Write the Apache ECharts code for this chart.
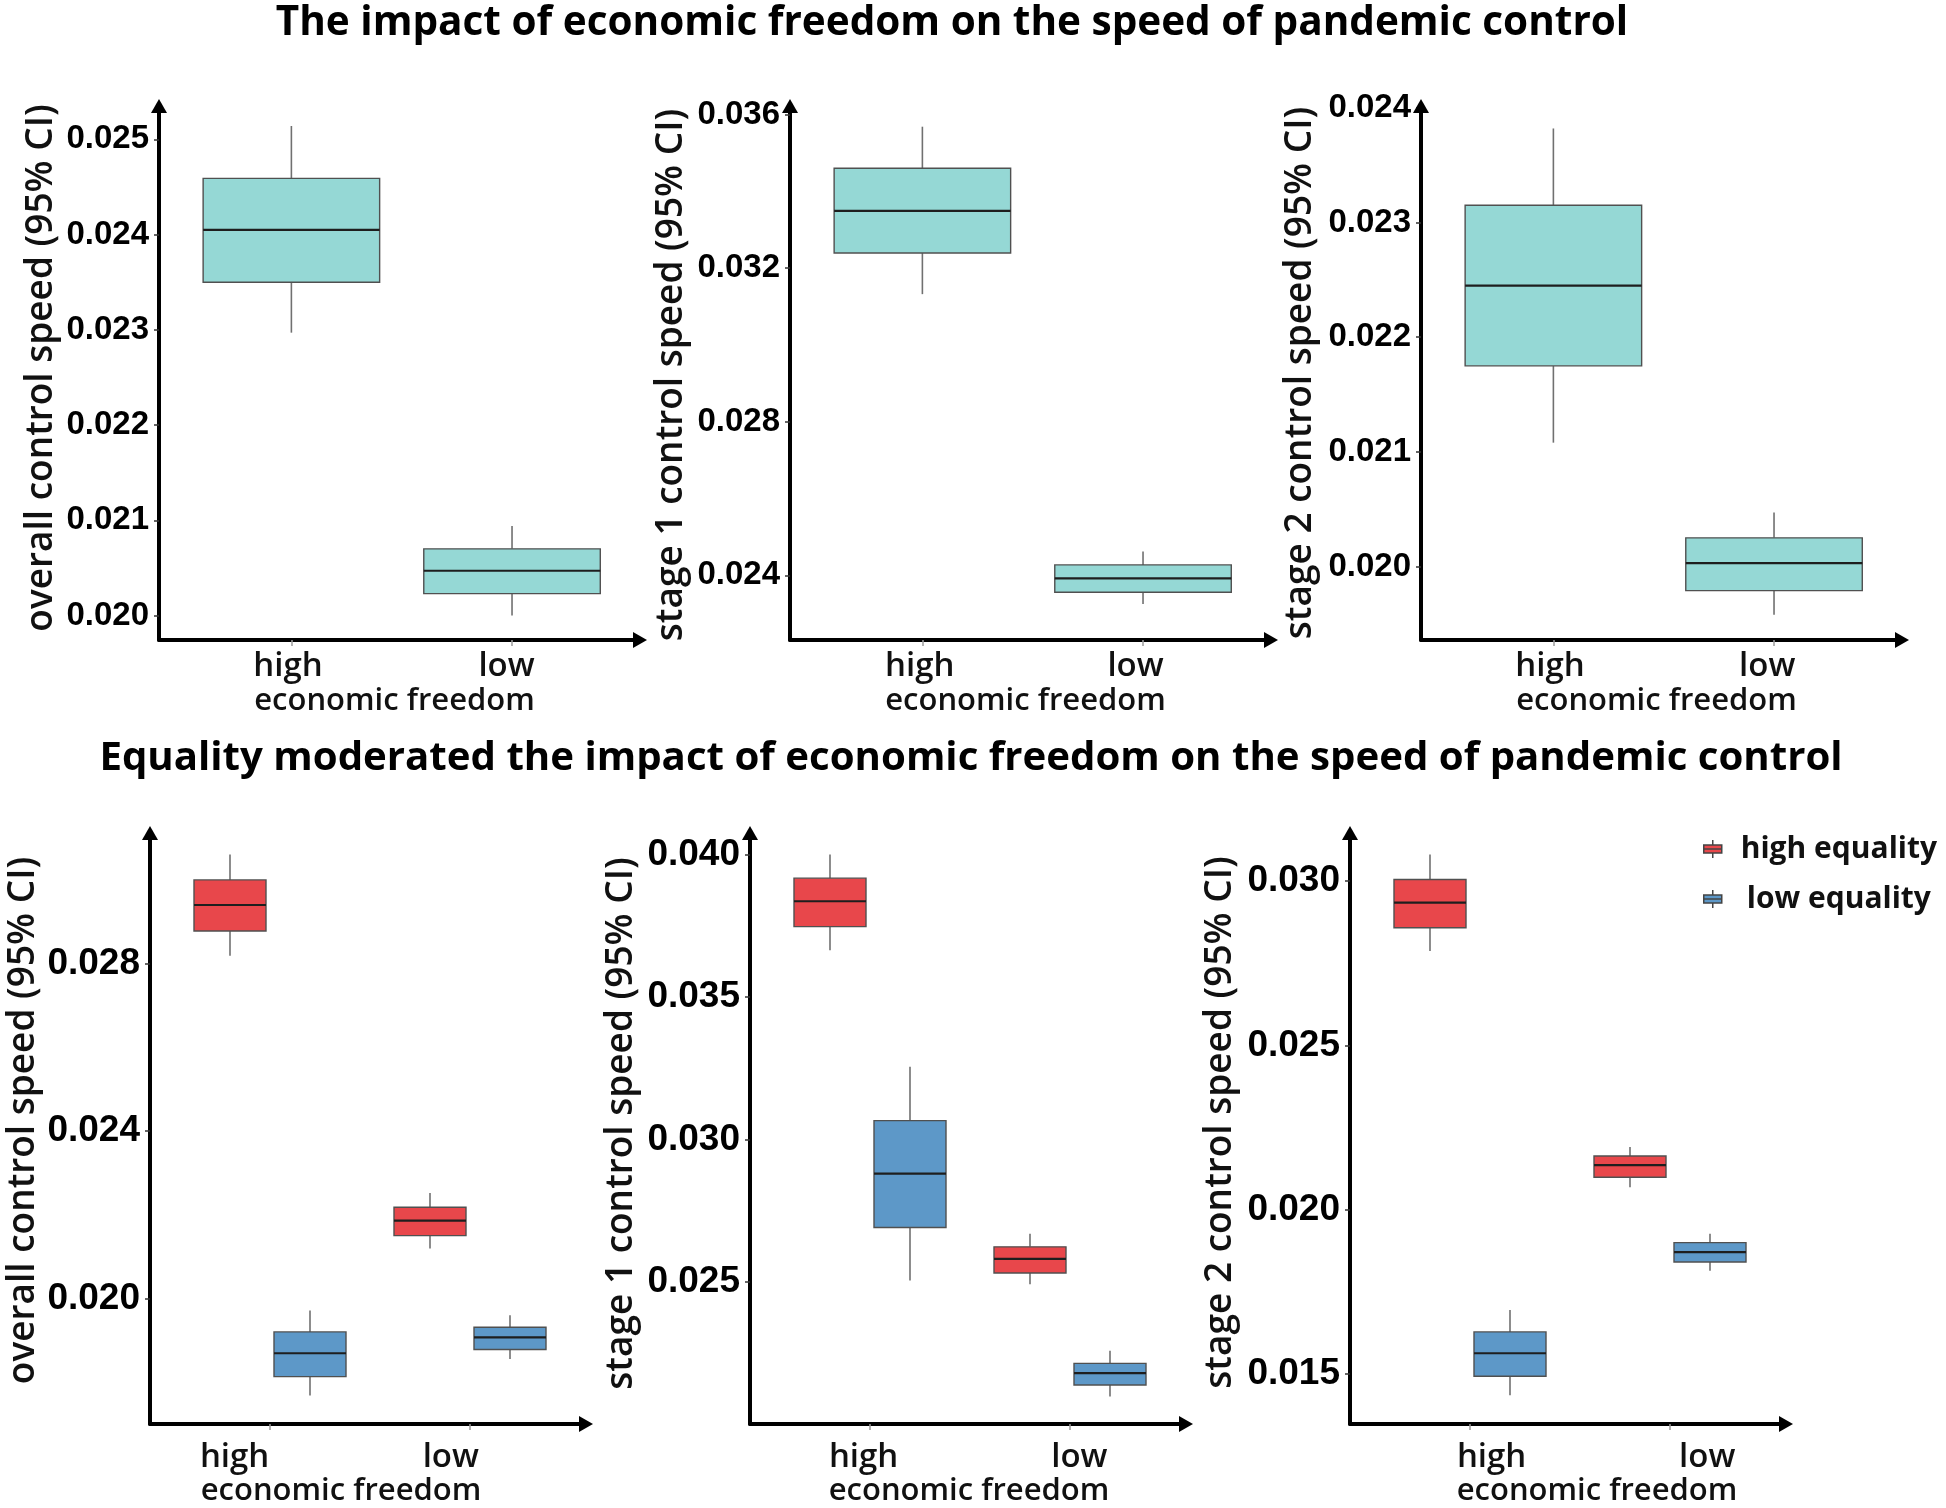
<!DOCTYPE html>
<html>
<head>
<meta charset="utf-8">
<script src="https://cdn.jsdelivr.net/npm/echarts@6/dist/echarts.min.js"></script>
<style>html,body{margin:0;padding:0;background:#fff}#chart{width:1946px;height:1508px}</style>
</head>
<body>
<div id="chart"></div>
<script>
// ---------------- DATA ----------------
const categories = ['high', 'low'];
const groups = ['high equality', 'low equality'];
const titleTop = 'The impact of economic freedom on the speed of pandemic control';
const titleBottom = 'Equality moderated the impact of economic freedom on the speed of pandemic control';
const yTitles = ['overall control speed (95% CI)', 'stage 1 control speed (95% CI)', 'stage 2 control speed (95% CI)'];
const xTitle = 'economic freedom';

// each row: [lower whisker, Q1, median, Q3, upper whisker] for categories (high, low)
const overallFreedom = [[0.02297, 0.02350, 0.02405, 0.02459, 0.02514], [0.02000, 0.02023, 0.02047, 0.02070, 0.02094]];
const stage1Freedom  = [[0.03132, 0.03239, 0.03349, 0.03460, 0.03568], [0.02325, 0.02356, 0.02392, 0.02427, 0.02462]];
const stage2Freedom  = [[0.02108, 0.02175, 0.02245, 0.02315, 0.02382], [0.01958, 0.01979, 0.02003, 0.02025, 0.02047]];

const overallHighEq = [[0.02819, 0.02878, 0.02940, 0.03000, 0.03061], [0.02119, 0.02150, 0.02186, 0.02218, 0.02252]];
const overallLowEq  = [[0.01768, 0.01813, 0.01869, 0.01920, 0.01971], [0.01855, 0.01878, 0.01907, 0.01931, 0.01960]];
const stage1HighEq  = [[0.03664, 0.03747, 0.03836, 0.03917, 0.04000], [0.02492, 0.02531, 0.02581, 0.02623, 0.02669]];
const stage1LowEq   = [[0.02505, 0.02691, 0.02880, 0.03066, 0.03255], [0.02098, 0.02138, 0.02180, 0.02214, 0.02258]];
const stage2HighEq  = [[0.02787, 0.02858, 0.02935, 0.03005, 0.03081], [0.02068, 0.02098, 0.02135, 0.02163, 0.02190]];
const stage2LowEq   = [[0.01434, 0.01492, 0.01562, 0.01627, 0.01694], [0.01813, 0.01840, 0.01870, 0.01899, 0.01926]];

// tick labels
const ticksOverallTop = [0.020, 0.021, 0.022, 0.023, 0.024, 0.025];
const ticksStage1Top  = [0.024, 0.028, 0.032, 0.036];
const ticksStage2Top  = [0.020, 0.021, 0.022, 0.023, 0.024];
const ticksOverallBot = [0.020, 0.024, 0.028];
const ticksStage1Bot  = [0.025, 0.030, 0.035, 0.040];
const ticksStage2Bot  = [0.015, 0.020, 0.025, 0.030];

// ---------------- STYLE / LAYOUT ----------------
const TEAL = '#95d8d5', RED = '#e8474b', BLUE = '#5d98c8';
const TITLE_FONT = '"Open Sans", "DejaVu Sans", sans-serif';
const TICK_FONT = '"Liberation Sans", Arial, sans-serif';

const panels = [
  {grid:{left:159, top:106, width:481, height:534}, yMin:0.019743, yMax:0.025350, ticks:ticksOverallTop, yName:yTitles[0], nameGap:99, yShift:10, labelPos:[0.985,1.975], xShift:-5, row:0,
   series:[{name:'economic freedom', data:overallFreedom, color:TEAL, offset:0, half:0.4}]},
  {grid:{left:790, top:106, width:481, height:534}, yMin:0.022315, yMax:0.036219, ticks:ticksStage1Top, yName:yTitles[1], nameGap:100, yShift:-4, labelPos:[0.988,1.966], xShift:-5, row:0,
   series:[{name:'economic freedom', data:stage1Freedom, color:TEAL, offset:0, half:0.4}]},
  {grid:{left:1421, top:106, width:481, height:534}, yMin:0.019359, yMax:0.024016, ticks:ticksStage2Top, yName:yTitles[2], nameGap:102, yShift:0, labelPos:[0.985,1.969], xShift:-5, row:0,
   series:[{name:'economic freedom', data:stage2Freedom, color:TEAL, offset:0, half:0.4}]},
  {grid:{left:150, top:833, width:436, height:591}, yMin:0.016999, yMax:0.031121, ticks:ticksOverallBot, yName:yTitles[0], nameGap:108, yShift:16, labelPos:[0.823,1.904], xShift:-27, row:1,
   series:[{name:groups[0], data:overallHighEq, color:RED, offset:-0.2, half:0.18}, {name:groups[1], data:overallLowEq, color:BLUE, offset:0.2, half:0.18}]},
  {grid:{left:750, top:833, width:436, height:591}, yMin:0.020012, yMax:0.040755, ticks:ticksStage1Bot, yName:yTitles[1], nameGap:110, yShift:10, labelPos:[0.968,2.047], xShift:1, row:1,
   series:[{name:groups[0], data:stage1HighEq, color:RED, offset:-0.2, half:0.18}, {name:groups[1], data:stage1LowEq, color:BLUE, offset:0.2, half:0.18}]},
  {grid:{left:1350, top:833, width:436, height:591}, yMin:0.013465, yMax:0.031468, ticks:ticksStage2Bot, yName:yTitles[2], nameGap:111, yShift:12, labelPos:[1.108,2.186], xShift:29, row:1,
   series:[{name:groups[0], data:stage2HighEq, color:RED, offset:-0.2, half:0.18}, {name:groups[1], data:stage2LowEq, color:BLUE, offset:0.2, half:0.18}]}
];

const rowStyle = [
  {tickSize:33, xLabelMargin:10, xNameGap:46},
  {tickSize:37, xLabelMargin:17, xNameGap:52}
];

function makeRender(offset, half) {
  return function (params, api) {
    const x = api.value(0) + offset;
    const lo = api.value(1), q1 = api.value(2), med = api.value(3), q3 = api.value(4), hi = api.value(5);
    const xc = api.coord([x, med])[0];
    const xl = api.coord([x - half, med])[0];
    const xr = api.coord([x + half, med])[0];
    const yLo = api.coord([x, lo])[1], yQ1 = api.coord([x, q1])[1], yMed = api.coord([x, med])[1];
    const yQ3 = api.coord([x, q3])[1], yHi = api.coord([x, hi])[1];
    const fill = api.visual('color');
    return {
      type: 'group',
      children: [
        {type:'line', shape:{x1:xc, y1:yHi, x2:xc, y2:yQ3}, style:{stroke:'#707070', lineWidth:1.6}},
        {type:'line', shape:{x1:xc, y1:yQ1, x2:xc, y2:yLo}, style:{stroke:'#707070', lineWidth:1.6}},
        {type:'rect', shape:{x:xl, y:yQ3, width:xr - xl, height:yQ1 - yQ3}, style:{fill:fill, stroke:'#505050', lineWidth:1.4}},
        {type:'line', shape:{x1:xl, y1:yMed, x2:xr, y2:yMed}, style:{stroke:'#1e1e1e', lineWidth:2.2}}
      ]
    };
  };
}

const grids = [], xAxes = [], yAxes = [], series = [];
panels.forEach(function (p, i) {
  const rs = rowStyle[p.row];
  grids.push(Object.assign({containLabel:false}, p.grid));
  const pad = p.xShift < 0 ? [0, -2 * p.xShift, 0, 0] : [0, 0, 0, 2 * p.xShift];
  const ypad = p.yShift >= 0 ? [0, 0, 0, p.yShift] : [0, -p.yShift, 0, 0];
  xAxes.push({
    type:'value', gridIndex:i, min:0.4, max:2.58,
    name:xTitle, nameLocation:'middle', nameGap:rs.xNameGap,
    nameTextStyle:{fontFamily:TITLE_FONT, fontWeight:600, fontSize:31, color:'#111', padding:pad},
    axisLine:{show:true, onZero:false, symbol:['none','triangle'], symbolSize:[16,14], lineStyle:{color:'#000', width:4}},
    axisTick:{show:true, customValues:[1,2], length:6, lineStyle:{color:'#9a9a9a', width:1.5}},
    axisLabel:{show:true, customValues:p.labelPos, margin:rs.xLabelMargin,
      formatter:function (v) { return v < 1.5 ? categories[0] : categories[1]; },
      fontFamily:TITLE_FONT, fontWeight:600, fontSize:33, color:'#111'},
    splitLine:{show:false}
  });
  yAxes.push({
    type:'value', gridIndex:i, min:p.yMin, max:p.yMax,
    name:p.yName, nameLocation:'middle', nameGap:p.nameGap,
    nameTextStyle:{fontFamily:TITLE_FONT, fontWeight:600, fontSize:37, color:'#111', padding:ypad},
    axisLine:{show:true, onZero:false, symbol:['none','triangle'], symbolSize:[16,14], lineStyle:{color:'#000', width:4}},
    axisTick:{show:true, customValues:p.ticks, length:5, lineStyle:{color:'#333', width:1.5}},
    axisLabel:{show:true, customValues:p.ticks, margin:10,
      formatter:function (v) { return v.toFixed(3); },
      fontFamily:TICK_FONT, fontWeight:'bold', fontSize:rs.tickSize, color:'#000'},
    splitLine:{show:false}
  });
  p.series.forEach(function (s) {
    series.push({
      type:'custom', name:s.name, xAxisIndex:i, yAxisIndex:i,
      itemStyle:{color:s.color},
      renderItem:makeRender(s.offset, s.half),
      encode:{x:0, y:[1,2,3,4,5]},
      data:s.data.map(function (d, k) { return [k + 1].concat(d); }),
      clip:false
    });
  });
});

const chart = echarts.init(document.getElementById('chart'), null, {renderer:'canvas'});
chart.setOption({
  animation:false,
  backgroundColor:'#fff',
  title:[
    {text:titleTop, left:952, top:3, textAlign:'center', padding:0,
     textStyle:{fontFamily:TITLE_FONT, fontWeight:700, fontSize:40.5, color:'#000'}},
    {text:titleBottom, left:971, top:739, textAlign:'center', padding:0,
     textStyle:{fontFamily:TITLE_FONT, fontWeight:700, fontSize:40.2, color:'#000'}}
  ],
  legend:{
    data:[{name:groups[0]}, {name:groups[1], textStyle:{padding:[0,0,0,18]}}],
    orient:'vertical', left:1698, top:826,
    itemWidth:22, itemHeight:18, itemGap:14,
    icon:'path://M2,5 L20,5 L20,13 L2,13 Z M2,9 L20,9 M11,0 L11,5 M11,13 L11,18',
    itemStyle:{borderColor:'#444', borderWidth:1.5},
    textStyle:{fontFamily:TITLE_FONT, fontWeight:700, fontSize:30, color:'#111', lineHeight:36, padding:[0,0,0,12]}
  },
  grid:grids, xAxis:xAxes, yAxis:yAxes, series:series
});
</script>
</body>
</html>
